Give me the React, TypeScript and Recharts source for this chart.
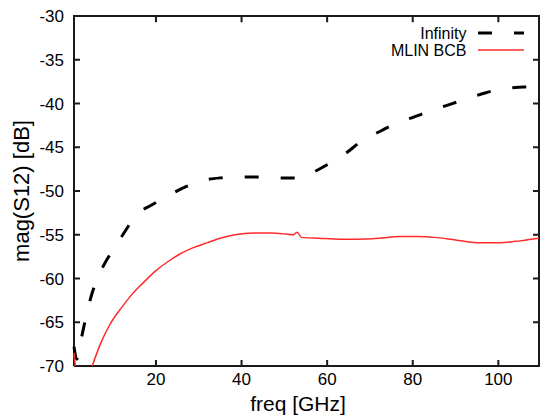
import React from 'react';
import { LineChart, Line, XAxis, YAxis, Legend } from 'recharts';

const infFreq = [0.85, 1.5, 2.5, 3.6, 5, 6.4, 8, 10.4, 12, 15.5, 19, 23, 27, 31, 35, 39, 44, 49, 53, 55, 57, 60, 64.6, 68, 72.3, 76, 80.5, 85, 88.7, 93, 96.9, 100, 103, 106, 109.5];
const infMag = [-67.8, -69.2, -67.0, -64.5, -61.8, -59.9, -58.3, -56.4, -55.2, -52.7, -51.6, -50.5, -49.5, -48.8, -48.5, -48.4, -48.4, -48.5, -48.5, -48.3, -47.8, -47.0, -45.6, -44.3, -43.2, -42.3, -41.5, -40.7, -40.1, -39.4, -38.8, -38.4, -38.2, -38.1, -38.1];

// null = curve below the -70 dB floor (not visible)
const bcbFreq = [0.85, 1.15, 3, 5.1, 7, 9.3, 12, 14.6, 17, 20, 23, 25.6, 28.6, 32, 35, 38.5, 42.7, 47, 50, 52, 53, 54, 58, 63, 67, 72, 77, 81, 85, 90, 95, 100.4, 105, 109.5];
const bcbMag = [-68.5, -70, null, -70, -67.5, -65.2, -63.3, -61.7, -60.5, -59.1, -58.0, -57.2, -56.5, -55.9, -55.4, -55.0, -54.8, -54.8, -54.9, -55.0, -54.7, -55.3, -55.4, -55.5, -55.5, -55.4, -55.2, -55.2, -55.3, -55.6, -55.9, -55.9, -55.7, -55.4];

const xTicks = [20, 40, 60, 80, 100];
const yTicks = [-70, -65, -60, -55, -50, -45, -40, -35, -30];
const xDomain = [0.85, 109.5];
const yDomain = [-70, -30];

const seriesNames = ['Infinity', 'MLIN BCB'];
const seriesColors = ['#000000', '#ff2a2a'];
const xTitle = 'freq [GHz]';
const yTitle = 'mag(S12) [dB]';

const infData = infFreq.map((f, i) => ({ f, v: infMag[i] }));
const bcbData = bcbFreq.map((f, i) => ({ f, v: bcbMag[i] }));

// inward tick length in axis units (about 6 px)
const TICK_X = 1.4;
const TICK_Y = 0.7;

// plot frame (border box) drawn through the chart scales
const frameData = [
  { f: xDomain[0], v: yDomain[0] },
  { f: xDomain[1], v: yDomain[0] },
  { f: xDomain[1], v: yDomain[1] },
  { f: xDomain[0], v: yDomain[1] },
  { f: xDomain[0], v: yDomain[0] },
];

// inward tick marks on all four sides, separated by null gaps
const tickData: { f: number; v: number | null }[] = [];
xTicks.forEach((t) => {
  tickData.push({ f: t, v: yDomain[0] }, { f: t, v: yDomain[0] + TICK_Y }, { f: t, v: null });
  tickData.push({ f: t, v: yDomain[1] }, { f: t, v: yDomain[1] - TICK_Y }, { f: t, v: null });
});
yTicks.slice(1, -1).forEach((t) => {
  tickData.push({ f: xDomain[0], v: t }, { f: xDomain[0] + TICK_X, v: t }, { f: xDomain[0], v: null });
  tickData.push({ f: xDomain[1], v: t }, { f: xDomain[1] - TICK_X, v: t }, { f: xDomain[1], v: null });
});

const FONT = '"Liberation Sans", Arial, sans-serif';

const renderLegend = () => (
  <svg width={541} height={70} style={{ display: 'block' }}>
    <text x={466.5} y={33} textAnchor="end" dominantBaseline="central" fontSize={16} fontFamily={FONT} fill="#000">{seriesNames[0]}</text>
    <line x1={478} x2={524} y1={33} y2={33} stroke={seriesColors[0]} strokeWidth={3} strokeDasharray="14 22" />
    <text x={466.5} y={50} textAnchor="end" dominantBaseline="central" fontSize={16} fontFamily={FONT} fill="#000">{seriesNames[1]}</text>
    <line x1={478} x2={524} y1={50} y2={50} stroke={seriesColors[1]} strokeWidth={1.5} />
  </svg>
);

export default function App() {
  return (
    <div style={{ position: 'absolute', left: 0, top: 0, width: 541, height: 418 }}>
      <LineChart width={541} height={418} margin={{ top: 16, right: 2, left: 0, bottom: 0 }}>
        <XAxis dataKey="f" type="number" domain={xDomain} ticks={xTicks}
          height={52} tickSize={0} tickMargin={7} axisLine={false} tickLine={false}
          tick={{ fill: '#000', fontSize: 17, fontFamily: FONT }}
          label={{ value: xTitle, position: 'center', dx: -8.5, dy: 12, fontSize: 21, fontFamily: FONT, fill: '#000' }} />
        <YAxis type="number" domain={yDomain} ticks={yTicks}
          width={74} tickSize={0} tickMargin={10} axisLine={false} tickLine={false}
          tick={{ fill: '#000', fontSize: 17, fontFamily: FONT }}
          label={{ value: yTitle, angle: -90, position: 'center', dx: -16, fontSize: 22, fontFamily: FONT, fill: '#000' }} />
        <Line data={frameData} dataKey="v" name="frame" type="linear" stroke="#1a1a1a" strokeWidth={2}
          dot={false} activeDot={false} isAnimationActive={false} legendType="none" />
        <Line data={tickData} dataKey="v" name="ticks" type="linear" stroke="#1a1a1a" strokeWidth={2} connectNulls={false}
          dot={false} activeDot={false} isAnimationActive={false} legendType="none" />
        <Line data={infData} dataKey="v" type="monotone" stroke={seriesColors[0]} strokeWidth={3}
          strokeDasharray="14 22" dot={false} isAnimationActive={false} name={seriesNames[0]} />
        <Line data={bcbData} dataKey="v" type="monotone" stroke={seriesColors[1]} strokeWidth={1.5}
          dot={false} isAnimationActive={false} name={seriesNames[1]} />
        <Legend layout="horizontal" verticalAlign="middle" align="center" content={renderLegend}
          wrapperStyle={{ position: 'absolute', left: 0, top: 0, width: 541, height: 70, margin: 0, padding: 0, pointerEvents: 'none' }} />
      </LineChart>
    </div>
  );
}
